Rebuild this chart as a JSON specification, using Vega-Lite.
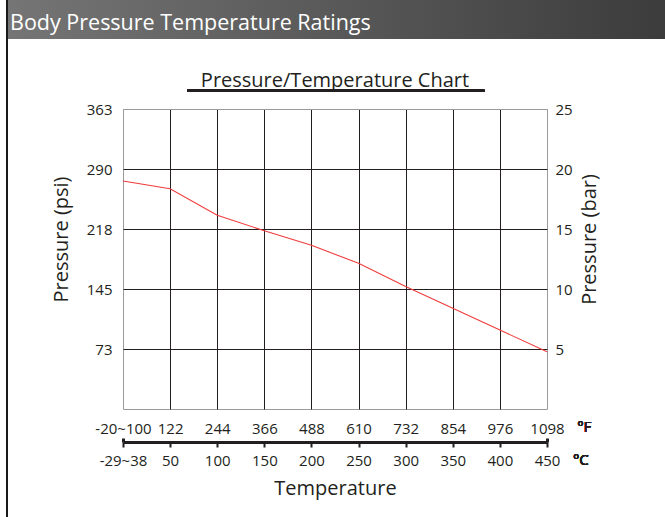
{
  "$schema": "https://vega.github.io/schema/vega-lite/v6.json",
  "padding": {"left": 6, "top": 0, "right": 0, "bottom": 0},
  "background": "white",
  "config": {
    "font": "Open Sans",
    "view": {"stroke": null},
    "axis": {"labelColor": "#231f20", "titleColor": "#231f20", "labelFont": "Open Sans", "titleFont": "Open Sans"},
    "title": {"font": "Open Sans"}
  },
  "spacing": 0,
  "bounds": "flush",
  "hconcat": [
    {"width": 2, "height": 517, "data": {"values": [{"part": "border"}]}, "mark": {"type": "rect", "color": "#1a1a1a"}, "encoding": {}},
    {
      "spacing": 70,
      "bounds": "flush",
      "vconcat": [
        {
          "width": 657,
          "height": 39,
          "data": {"values": [{"t": "Body Pressure Temperature Ratings"}]},
          "layer": [
            {
              "mark": {"type": "rect", "fill": {"gradient": "linear", "x1": 0, "y1": 0, "x2": 1, "y2": 0, "stops": [{"offset": 0, "color": "#757575"}, {"offset": 1, "color": "#3c3c3c"}]}},
              "encoding": {}
            },
            {
              "mark": {"type": "text", "align": "left", "baseline": "alphabetic", "dx": 2, "dy": 10, "fontSize": 21.5, "fontWeight": "normal", "color": "#ffffff"},
              "encoding": {
                "x": {"datum": 0, "type": "quantitative", "scale": {"domain": [0, 1], "nice": false, "zero": false}, "axis": null},
                "text": {"field": "t", "type": "nominal"}
              }
            }
          ]
        },
        {
          "spacing": 0,
          "bounds": "flush",
          "hconcat": [
            {"width": 115, "height": 300, "data": {"values": [{"part": "spacer"}]}, "mark": {"type": "rect", "opacity": 0}, "encoding": {}},
            {
              "width": 424,
              "height": 300,
              "view": {"stroke": "#9a9a9a", "strokeWidth": 1},
              "title": {"text": "Pressure/Temperature Chart", "anchor": "middle", "frame": "group", "fontSize": 20, "fontWeight": "normal", "color": "#231f20", "offset": -17, "baseline": "alphabetic"},
              "data": {"values": [
                {"C": "-29~38", "F": "-20~100", "bar": 19.0},
                {"C": "50", "F": "122", "bar": 18.36},
                {"C": "100", "F": "244", "bar": 16.14},
                {"C": "150", "F": "366", "bar": 14.86},
                {"C": "200", "F": "488", "bar": 13.64},
                {"C": "250", "F": "610", "bar": 12.14},
                {"C": "300", "F": "732", "bar": 10.2},
                {"C": "350", "F": "854", "bar": 8.39},
                {"C": "400", "F": "976", "bar": 6.58},
                {"C": "450", "F": "1098", "bar": 4.78}
              ]},
              "resolve": {"scale": {"x": "independent"}, "axis": {"x": "independent", "y": "independent"}},
              "layer": [
                {
                  "mark": {"type": "line", "color": "#f03c3c", "strokeWidth": 1.1},
                  "encoding": {
                    "x": {"field": "C", "type": "ordinal", "sort": null, "scale": {"type": "point", "padding": 0},
                      "axis": {"orient": "bottom", "offset": 33, "domain": true, "domainWidth": 3, "domainColor": "#231f20", "ticks": true, "tickSize": 5, "tickWidth": 2, "tickColor": "#231f20", "labelPadding": 6, "labelFontSize": 15, "labelAngle": 0, "labelOverlap": false, "grid": false, "title": "Temperature", "titleFontSize": 20, "titleFontWeight": "normal", "titlePadding": 10}},
                    "y": {"field": "bar", "type": "quantitative", "scale": {"domain": [0, 25], "nice": false, "zero": true},
                      "axis": {"orient": "left", "values": [5, 10, 15, 20, 25], "labelExpr": "format(datum.value*14.5038,'d')", "ticks": false, "tickSize": 0, "domain": false, "labelPadding": 11, "labelFontSize": 15, "labelFlush": false, "labelOverlap": false, "grid": true, "gridColor": {"condition": {"test": "datum.value == 25", "value": "#9a9a9a"}, "value": "#231f20"}, "title": "Pressure (psi)", "titleFontSize": 20, "titleFontWeight": "normal", "titleAngle": 270, "titleBaseline": "alphabetic", "titleAlign": "center", "titleX": -56, "titleY": 130}}
                  }
                },
                {
                  "mark": {"type": "point", "opacity": 0},
                  "encoding": {
                    "x": {"field": "F", "type": "ordinal", "sort": null, "scale": {"type": "point", "padding": 0},
                      "axis": {"orient": "bottom", "offset": 0, "domain": false, "ticks": false, "tickSize": 0, "labelPadding": 12, "labelFontSize": 15, "labelAngle": 0, "labelOverlap": false, "grid": true, "gridColor": "#231f20", "gridOpacity": {"condition": {"test": "datum.value == '-20~100' || datum.value == '1098'", "value": 0}, "value": 1}, "title": null}},
                    "y": {"field": "bar", "type": "quantitative",
                      "axis": {"orient": "right", "values": [5, 10, 15, 20, 25], "ticks": false, "tickSize": 0, "domain": false, "labelPadding": 8, "labelFontSize": 15, "labelFlush": false, "labelOverlap": false, "grid": false, "title": "Pressure (bar)", "titleFontSize": 20, "titleFontWeight": "normal", "titleAngle": 270, "titleBaseline": "alphabetic", "titleAlign": "center", "titleX": 48, "titleY": 130}}
                  }
                },
                {
                  "mark": {"type": "point", "opacity": 0},
                  "encoding": {
                    "x": {"field": "C", "type": "ordinal", "sort": null, "scale": {"type": "point", "padding": 0},
                      "axis": {"orient": "bottom", "offset": 33, "values": ["-29~38", "450"], "domain": false, "ticks": true, "tickSize": -4, "tickWidth": 3, "tickColor": "#231f20", "labels": false, "grid": false, "title": null}},
                    "y": {"field": "bar", "type": "quantitative", "axis": null}
                  }
                },
                {
                  "mark": {"type": "rule", "color": "#231f20", "strokeWidth": 2.5},
                  "encoding": {
                    "x": {"datum": 1.365, "type": "quantitative", "scale": {"domain": [0, 9], "nice": false, "zero": false}, "axis": null},
                    "x2": {"datum": 7.67},
                    "y": {"datum": 26.52, "type": "quantitative", "axis": null}
                  }
                },
                {
                  "mark": {"type": "text", "text": "°F", "align": "left", "baseline": "alphabetic", "fontSize": 15, "fontWeight": "normal", "fill": "#231f20", "stroke": null},
                  "encoding": {
                    "x": {"datum": 9.64, "type": "quantitative", "scale": {"domain": [0, 9], "nice": false, "zero": false}, "axis": null},
                    "y": {"datum": -1.95, "type": "quantitative", "axis": null}
                  }
                },
                {
                  "mark": {"type": "text", "text": "°C", "align": "left", "baseline": "alphabetic", "fontSize": 15, "fontWeight": "normal", "fill": "#231f20", "stroke": null},
                  "encoding": {
                    "x": {"datum": 9.55, "type": "quantitative", "scale": {"domain": [0, 9], "nice": false, "zero": false}, "axis": null},
                    "y": {"datum": -4.64, "type": "quantitative", "axis": null}
                  }
                }
              ]
            }
          ]
        }
      ]
    }
  ]
}
